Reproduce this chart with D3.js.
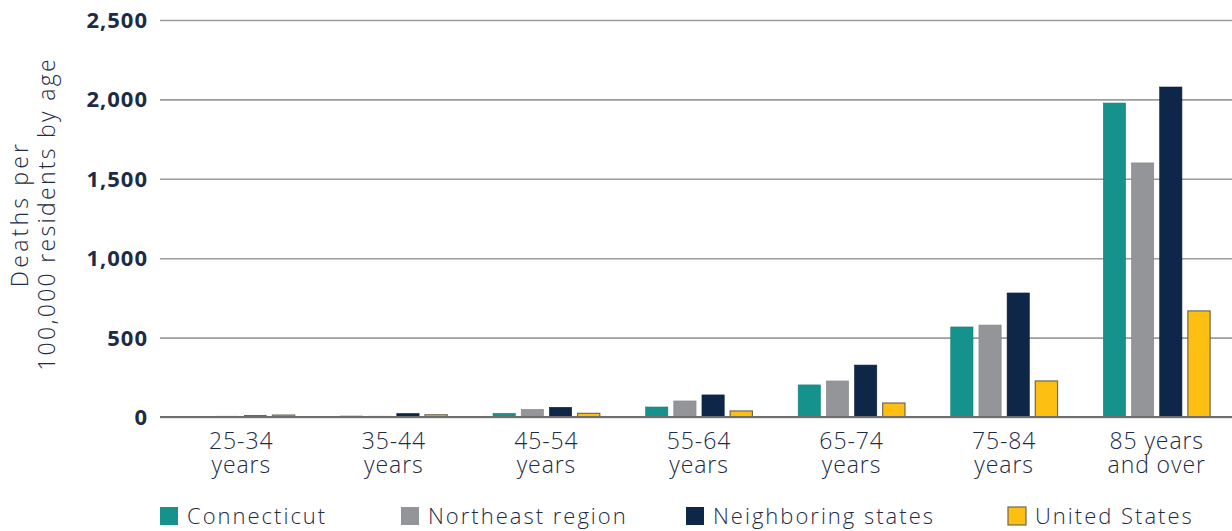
<!DOCTYPE html>
<html><head><meta charset="utf-8">
<script src="https://cdn.jsdelivr.net/npm/d3@7"></script>
<style>
html,body{margin:0;padding:0;background:#fff;}
svg text{font-family:"Open Sans",sans-serif;fill:#1d2b47;}
</style></head>
<body><svg id="c" width="1232" height="531"></svg>
<script>
const categories = [["25-34","years"],["35-44","years"],["45-54","years"],["55-64","years"],["65-74","years"],["75-84","years"],["85 years","and over"]];
const seriesNames = ["Connecticut","Northeast region","Neighboring states","United States"];
const connecticut = [3, 6, 23, 63, 202, 567, 1977];
const northeast   = [5, 5, 48, 101, 227, 579, 1600];
const neighboring = [8, 22, 61, 139, 327, 781, 2078];
const unitedStates= [12, 14, 23, 38, 88, 227, 668];
const yTicks = [0, 500, 1000, 1500, 2000, 2500];
const colors = ["#15928c","#939598","#0e2647","#fcbf12"];
const series = [connecticut, northeast, neighboring, unitedStates];

const svg = d3.select("#c");
const y = d3.scaleLinear().domain([0,2500]).range([417,20]);
const x0 = d3.scaleBand().domain(categories.map((d,i)=>i)).range([165,1233]).paddingInner(0.3).paddingOuter(0.15);
const x1 = d3.scaleBand().domain(seriesNames).range([0,x0.bandwidth()]).paddingInner(0.21).paddingOuter(0);

// gridlines
const yAxis = d3.axisLeft(y).tickValues(yTicks).tickSize(-(1232-160)).tickFormat(d3.format(",")).tickPadding(12);
const g = svg.append("g").attr("transform","translate(160,0)").call(yAxis);
g.select(".domain").remove();
g.selectAll(".tick line").attr("stroke","#9a9c9f").attr("stroke-width",1.6);
g.selectAll(".tick text").attr("font-size",22).attr("font-weight",700).attr("fill","#1d2b47")
  .attr("letter-spacing","1px").attr("dx",0).attr("dy","0.34em");

// bars
categories.forEach((c,i)=>{
  seriesNames.forEach((s,j)=>{
    const v = series[j][i];
    svg.append("rect")
      .attr("x", x0(i)+x1(s))
      .attr("y", y(v))
      .attr("width", x1.bandwidth())
      .attr("height", y(0)-y(v))
      .attr("fill", colors[j])
      .attr("stroke", j===3 ? "#6f6a55" : d3.color(colors[j]).darker(0.3))
      .attr("stroke-width", j===3 ? 1.2 : 0.6);
  });
});

// zero line
svg.append("line").attr("x1",160).attr("x2",1232).attr("y1",y(0)).attr("y2",y(0)).attr("stroke","#6d6f72").attr("stroke-width",2.2);

// x labels
const xl = svg.append("g");
categories.forEach((c,i)=>{
  const cx = x0(i)+x0.bandwidth()/2;
  xl.append("text").attr("text-anchor","middle").attr("font-size",23).attr("font-weight",300)
    .attr("letter-spacing","0.9px").attr("x",cx).attr("y",449).text(c[0]);
  xl.append("text").attr("text-anchor","middle").attr("font-size",23).attr("font-weight",300)
    .attr("letter-spacing","0.9px").attr("x",cx).attr("y",473).text(c[1]);
});

// y title
const yt = svg.append("g").attr("transform","translate(0,214) rotate(-90)");
yt.append("text").attr("text-anchor","middle").attr("font-size",23).attr("font-weight",300)
  .attr("letter-spacing","3.2px").attr("x",0).attr("y",28).text("Deaths per");
yt.append("text").attr("text-anchor","middle").attr("font-size",23).attr("font-weight",300)
  .attr("letter-spacing","2.3px").attr("x",0).attr("y",55).text("100,000 residents by age");

// legend
const legX = [160, 401, 686, 1008];
const lg = svg.append("g");
seriesNames.forEach((s,j)=>{
  lg.append("rect").attr("x",legX[j]).attr("y",507).attr("width",18).attr("height",18)
    .attr("fill",colors[j]).attr("stroke", j===3?"#6f6a55":"none").attr("stroke-width",1.2);
  lg.append("text").attr("x",legX[j]+27).attr("y",524).attr("font-size",22).attr("font-weight",300)
    .attr("letter-spacing","2px").text(s);
});
</script></body></html>
